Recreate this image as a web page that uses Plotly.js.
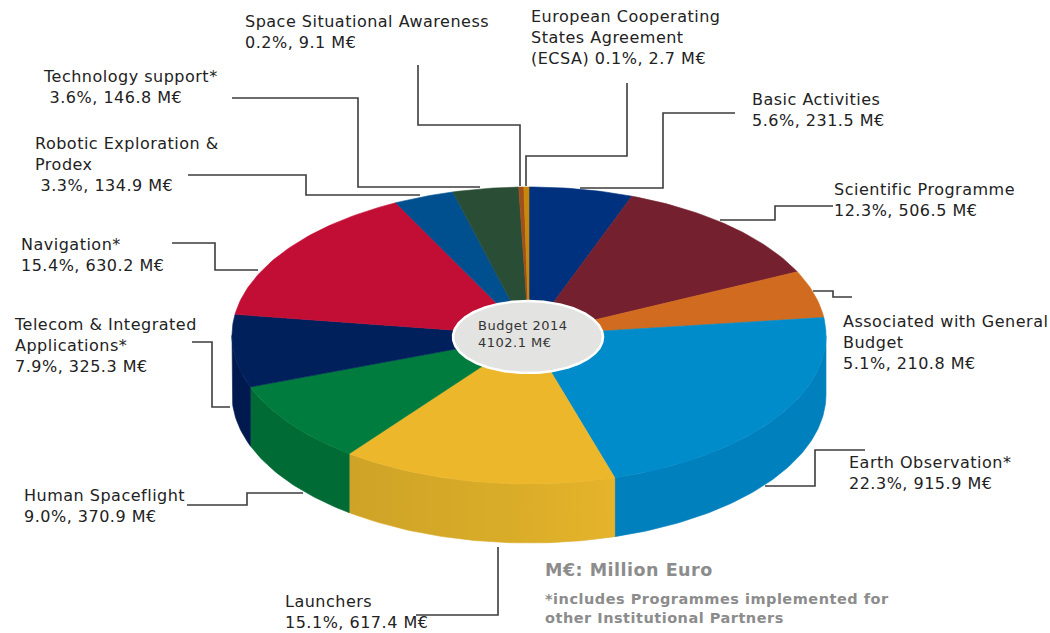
<!DOCTYPE html>
<html>
<head>
<meta charset="utf-8">
<script src="https://cdn.plot.ly/plotly-3.0.1.min.js"></script>
<style>html,body{margin:0;padding:0;background:#fff}#chart{width:1050px;height:633px}
.annotation-text-g text{letter-spacing:0.5px}</style>
</head>
<body>
<div id="chart"></div>
<script>
// Programme data, clockwise from the top of the pie
const categories = ["Basic Activities","Scientific Programme","Associated with General Budget","Earth Observation*","Launchers","Human Spaceflight","Telecom & Integrated Applications*","Navigation*","Robotic Exploration & Prodex","Technology support*","Space Situational Awareness","European Cooperating States Agreement (ECSA)"];
const shares = [5.6,12.3,5.1,22.3,15.1,9.0,7.9,15.4,3.3,3.6,0.2,0.1];
const amounts = [231.5,506.5,210.8,915.9,617.4,370.9,325.3,630.2,134.9,146.8,9.1,2.7];
const totalLabel = "Budget 2014<br>4102.1 M€";

// Styles
const topColors = ["#00317f","#74202e","#d16b1f","#008ccb","#edb72c","#007d3e","#00205c","#c20e35","#00508f","#2a4e35","#a0501a","#c8880c"];
const sideColors = ["#00317f","#74202e","#d16b1f","#0080bd","#d8ab28","#006b35","#001a50","#c20e35","#00508f","#2a4e35","#a0501a","#c8880c"];

// Label placement: [x, y of top, line-broken name, indent of value line]
const labelNames = ["Basic Activities","Scientific Programme","Associated with General<br>Budget","Earth Observation*","Launchers","Human Spaceflight","Telecom & Integrated<br>Applications*","Navigation*","Robotic Exploration &<br>Prodex","Technology support*","Space Situational Awareness","European Cooperating<br>States Agreement<br>(ECSA)"];
const labelX = [751,833,842,848,284,23,13,20,34,42,244,530];
const labelY = [89,179,311,452,591,485,314,234,133,66,11,6];
const labelIndent = ["","","","","","","","","\u00a0","\u00a0","",""];
const labelJoin = ["<br>","<br>","<br>","<br>","<br>","<br>","<br>","<br>","<br>","<br>","<br>"," "];

const leaderPaths = [
 "M418,65 V125 H520 V186",
 "M627,83 V156 H526 V186",
 "M735,113 H663 V188 H580",
 "M833,206 H775 V220 H720",
 "M813,291 H833 V297 H852",
 "M765,486 H815 V450 H865",
 "M498,547 V615 H416",
 "M187,505 H247 V493 H303",
 "M192,342 H212 V407 H230",
 "M172,243 H215 V270 H258",
 "M188,175 H306 V195 H420",
 "M232,98 H358 V187 H480"
];

// Pie geometry in axis (pixel-like) units
const cx = 529, cy = 335.5, rx = 297, ry = 148.5, depth = 59;
const minSweep = 1;
const total = amounts.reduce((a,b)=>a+b,0);
let sweeps = amounts.map(v => Math.max(v/total*360, minSweep));
const sw = sweeps.reduce((a,b)=>a+b,0);
sweeps = sweeps.map(s => s*360/sw);

const rad = d => d*Math.PI/180;
const px = a => cx + rx*Math.sin(rad(a));
const py = (a,o=0) => cy - ry*Math.cos(rad(a)) + o;

function arcAngles(a0,a1){
  const out=[]; const n=Math.max(2,Math.ceil((a1-a0)/1));
  for(let i=0;i<=n;i++) out.push(a0+(a1-a0)*i/n);
  return out;
}

const sides=[], tops=[];
let start=0;
categories.forEach((name,i)=>{
  const end=start+sweeps[i];
  const ta=arcAngles(start,end);
  tops.push({type:"scatter",mode:"lines",name:name,
    x:[cx,...ta.map(px),cx],y:[cy,...ta.map(a=>py(a)),cy],
    fill:"toself",fillcolor:topColors[i],line:{color:topColors[i],width:0.6},
    hoverinfo:"skip",showlegend:false});
  const s0=Math.max(start,90), s1=Math.min(end,270);
  if(s1>s0){
    const sa=arcAngles(s0,s1);
    const t={type:"scatter",mode:"lines",name:name+" (side)",
      x:[...sa.map(px),...sa.slice().reverse().map(px),px(s0)],
      y:[...sa.map(a=>py(a)),...sa.slice().reverse().map(a=>py(a,depth)),py(s0)],
      fill:"toself",fillcolor:sideColors[i],line:{color:sideColors[i],width:0.6},
      hoverinfo:"skip",showlegend:false};
    if(name==="Launchers"){
      t.fillgradient={type:"horizontal",colorscale:[[0,"#cfa327"],[0.6,"#d9ac28"],[1,"#e6b42b"]]};
      delete t.fillcolor;
    }
    sides.push(t);
  }
  start=end;
});

// Centre hub
const hubA=arcAngles(0,360);
const hub={type:"scatter",mode:"lines",name:"Budget 2014",
  x:hubA.map(a=>528+75*Math.sin(rad(a))),y:hubA.map(a=>337-36*Math.cos(rad(a))),
  fill:"toself",fillcolor:"#e3e3e2",line:{color:"#ffffff",width:2.5},hoverinfo:"skip",showlegend:false};

const annotations=categories.map((c,i)=>({
  x:labelX[i],y:labelY[i],xref:"x",yref:"y",xanchor:"left",yanchor:"top",align:"left",showarrow:false,
  borderpad:0,
  text:labelNames[i]+labelJoin[i]+labelIndent[i]+shares[i].toFixed(1)+"%, "+amounts[i].toFixed(1)+" M€",
  font:{family:"DejaVu Sans, Verdana, sans-serif",size:16,color:"#222222"}
}));
annotations.push({x:477,y:317,xref:"x",yref:"y",xanchor:"left",yanchor:"top",align:"left",showarrow:false,borderpad:0,
  text:totalLabel,font:{family:"DejaVu Sans, sans-serif",size:13,color:"#333333"}});
annotations.push({x:544,y:559,xref:"x",yref:"y",xanchor:"left",yanchor:"top",align:"left",showarrow:false,borderpad:0,
  text:"<b>M€: Million Euro</b>",font:{family:"DejaVu Sans, sans-serif",size:17.5,color:"#8c8c8c"}});
annotations.push({x:544,y:590,xref:"x",yref:"y",xanchor:"left",yanchor:"top",align:"left",showarrow:false,borderpad:0,
  text:"<b>*includes Programmes implemented for<br>other Institutional Partners</b>",font:{family:"DejaVu Sans, sans-serif",size:14.5,color:"#8c8c8c"}});

const layout={
  width:1050,height:633,margin:{l:0,r:0,t:0,b:0},paper_bgcolor:"#ffffff",plot_bgcolor:"#ffffff",showlegend:false,
  xaxis:{range:[0,1050],visible:false,fixedrange:true},
  yaxis:{range:[633,0],visible:false,fixedrange:true},
  shapes:leaderPaths.map(p=>({type:"path",path:p,xref:"x",yref:"y",line:{color:"#3c3c3c",width:1.6}})),
  annotations:annotations
};
Plotly.newPlot("chart",[...sides,...tops,hub],layout,{displayModeBar:false,staticPlot:true});
</script>
</body>
</html>
